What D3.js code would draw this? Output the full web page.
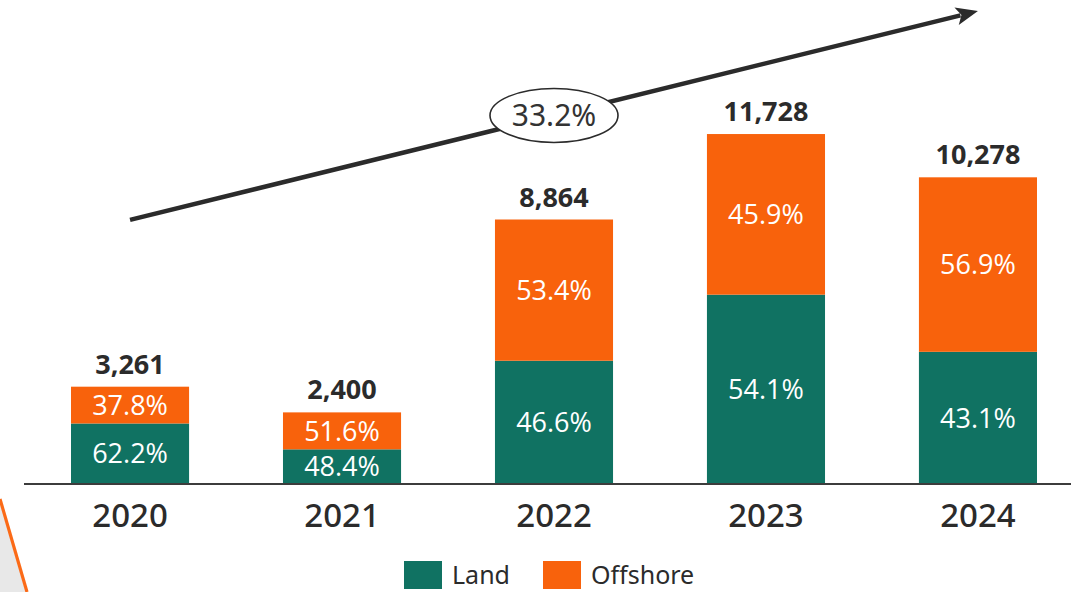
<!DOCTYPE html>
<html>
<head>
<meta charset="utf-8">
<script src="https://cdn.jsdelivr.net/npm/d3@7/dist/d3.min.js"></script>
<style>
  html, body { margin: 0; padding: 0; background: #ffffff; }
  svg { display: block; }
</style>
</head>
<body>
<svg id="chart" width="1071" height="592"></svg>
<script>
// Annual installations by year, split into land and offshore shares
const years = ["2020", "2021", "2022", "2023", "2024"];
const totals = [3261, 2400, 8864, 11728, 10278];
const landShare = [62.2, 48.4, 46.6, 54.1, 43.1];
const offshoreShare = [37.8, 51.6, 53.4, 45.9, 56.9];
const seriesNames = ["Land", "Offshore"];
const growthLabel = "33.2%";
// Trend arrow endpoints, in value units (from the 2020 column to the 2024 column)
const trendFrom = 8850;
const trendTo = 15850;

const colors = { Land: "#107262", Offshore: "#f8620c" };
const W = 1071, H = 592;
const baseY = 484;

const svg = d3.select("#chart");

// Decorative corner wedge
svg.append("path")
  .attr("d", "M0,499 L27,592 L0,592 Z")
  .attr("fill", "#e8e8e8");
svg.append("line")
  .attr("x1", 0).attr("y1", 499).attr("x2", 27).attr("y2", 592)
  .attr("stroke", "#fb6a17").attr("stroke-width", 3.2);

const x = d3.scaleBand()
  .domain(years)
  .range([71, 1037])
  .paddingInner(0.443)
  .paddingOuter(0);

const y = d3.scaleLinear()
  .domain([0, 16220])
  .range([baseY, 0]);

const rows = years.map((yr, i) => ({
  year: yr,
  total: totals[i],
  Land: totals[i] * landShare[i] / 100,
  Offshore: totals[i] * offshoreShare[i] / 100,
  landPct: landShare[i],
  offPct: offshoreShare[i]
}));

const stack = d3.stack().keys(seriesNames);
const layers = stack(rows);

const g = svg.append("g");

g.selectAll("g.layer")
  .data(layers)
  .join("g")
  .attr("class", "layer")
  .attr("fill", d => colors[d.key])
  .selectAll("rect")
  .data(d => d)
  .join("rect")
  .attr("x", d => x(d.data.year))
  .attr("width", x.bandwidth())
  .attr("y", d => y(d[1]))
  .attr("height", d => y(d[0]) - y(d[1]));

// Share labels inside each segment
layers.forEach(layer => {
  g.selectAll(null)
    .data(layer)
    .join("text")
    .attr("x", d => x(d.data.year) + x.bandwidth() / 2)
    .attr("y", d => (y(d[0]) + y(d[1])) / 2)
    .attr("dy", "0.36em")
    .attr("text-anchor", "middle")
    .attr("fill", "#ffffff")
    .style("font-family", "'Open Sans', sans-serif")
    .style("font-size", "27px")
    .text(d => (layer.key === "Land" ? d.data.landPct : d.data.offPct).toFixed(1) + "%");
});

// Totals above each bar
g.selectAll("text.total")
  .data(rows)
  .join("text")
  .attr("class", "total")
  .attr("x", d => x(d.year) + x.bandwidth() / 2)
  .attr("y", d => y(d.total) - 13)
  .attr("text-anchor", "middle")
  .attr("fill", "#2b2b2b")
  .style("font-family", "'Open Sans', sans-serif")
  .style("font-weight", "700")
  .style("font-size", "27px")
  .text(d => d3.format(",")(d.total));

// Baseline axis
const axis = d3.axisBottom(x).tickSize(0).tickPadding(20);
const ax = svg.append("g")
  .attr("transform", `translate(0,${baseY})`)
  .call(axis);
ax.select(".domain").remove();
ax.selectAll("text")
  .attr("fill", "#2b2b2b")
  .style("font-family", "'Noto Sans', sans-serif")
  .style("font-weight", "500")
  .style("font-size", "33px");
svg.append("line")
  .attr("x1", 24).attr("x2", W)
  .attr("y1", baseY).attr("y2", baseY)
  .attr("stroke", "#3c3c3c").attr("stroke-width", 2);

// Growth trend arrow
const ax1 = x(years[0]) + x.bandwidth() / 2;
const ay1 = y(trendFrom);
const ax2 = x(years[years.length - 1]) + x.bandwidth() / 2;
const ay2 = y(trendTo);
const ang = Math.atan2(ay2 - ay1, ax2 - ax1);
const headLen = 22, headHalf = 9;
const bx = ax2 - headLen * Math.cos(ang);
const by = ay2 - headLen * Math.sin(ang);
svg.append("line")
  .attr("x1", ax1).attr("y1", ay1)
  .attr("x2", bx + 4 * Math.cos(ang)).attr("y2", by + 4 * Math.sin(ang))
  .attr("stroke", "#2b2b2b").attr("stroke-width", 4.5);
svg.append("path")
  .attr("d", `M${ax2},${ay2}
    L${bx + headHalf * Math.sin(ang)},${by - headHalf * Math.cos(ang)}
    L${bx + 5 * Math.cos(ang)},${by + 5 * Math.sin(ang)}
    L${bx - headHalf * Math.sin(ang)},${by + headHalf * Math.cos(ang)} Z`)
  .attr("fill", "#2b2b2b");

// Growth rate badge on the arrow
const ex = (x(years[2]) + x.bandwidth() / 2);
const ey = ay1 + (ay2 - ay1) * (ex - ax1) / (ax2 - ax1);
svg.append("ellipse")
  .attr("cx", ex).attr("cy", ey)
  .attr("rx", 64).attr("ry", 27)
  .attr("fill", "#ffffff")
  .attr("stroke", "#2b2b2b").attr("stroke-width", 1.6);
svg.append("text")
  .attr("x", ex).attr("y", ey)
  .attr("dy", "0.36em")
  .attr("text-anchor", "middle")
  .attr("fill", "#333333")
  .style("font-family", "'Noto Sans', sans-serif")
  .style("font-size", "30px")
  .text(growthLabel);

// Legend
const legend = svg.append("g").attr("transform", "translate(404,561)");
const legendX = [0, 139];
seriesNames.forEach((name, i) => {
  const item = legend.append("g").attr("transform", `translate(${legendX[i]},0)`);
  item.append("rect")
    .attr("width", 38).attr("height", 28)
    .attr("fill", colors[name]);
  item.append("text")
    .attr("x", 48).attr("y", 23)
    .attr("fill", "#2b2b2b")
    .style("font-family", "'Noto Sans', sans-serif")
    .style("font-size", "25px")
    .text(name);
});
</script>
</body>
</html>
